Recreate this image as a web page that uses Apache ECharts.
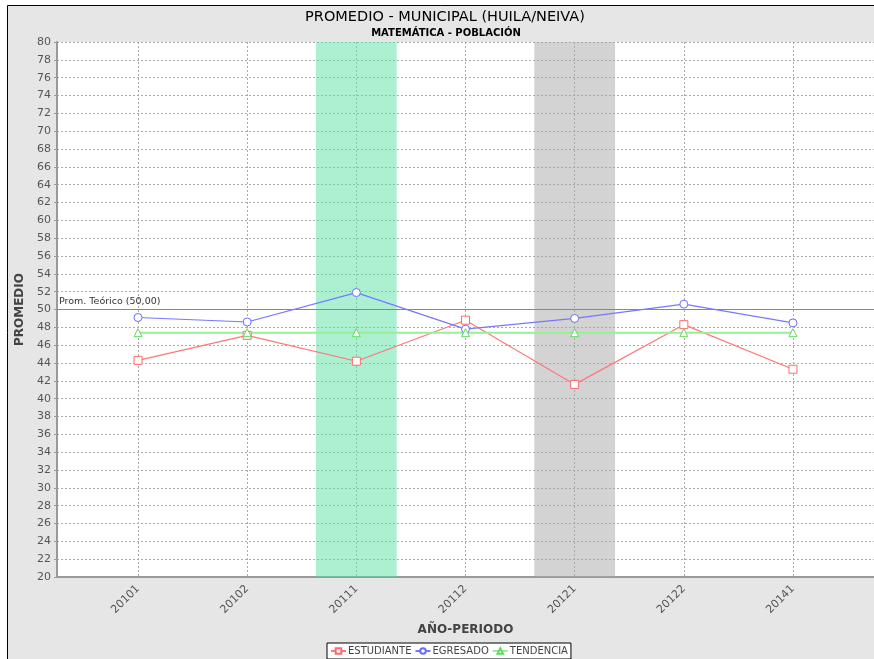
<!DOCTYPE html>
<html>
<head>
<meta charset="utf-8">
<script src="https://cdn.jsdelivr.net/npm/echarts@6/dist/echarts.min.js"></script>
<style>
html,body{margin:0;padding:0;background:#fff;}
#chart{width:874px;height:659px;}
</style>
</head>
<body>
<div id="chart"></div>
<script>
var categories = ['20101','20102','20111','20112','20121','20122','20141'];
var estudiante = [44.3, 47.1, 44.2, 48.8, 41.6, 48.3, 43.3];
var egresado   = [49.1, 48.6, 51.9, 47.8, 49.0, 50.6, 48.5];
var tendencia  = [47.4, 47.4, 47.4, 47.4, 47.4, 47.4, 47.4];
var promTeorico = 50;
var greenBandCat = '20111';
var grayBandCat = '20121';

var chart = echarts.init(document.getElementById('chart'), null, {renderer:'canvas'});
function pairs(arr){ return arr.map(function(v,i){ return [i, v]; }); }
var half = 0.37;
var gi = categories.indexOf(greenBandCat), ri = categories.indexOf(grayBandCat);
var FONT = 'DejaVu Sans';

var option = {
  backgroundColor: '#ffffff',
  animation: false,
  textStyle: {fontFamily: FONT},
  graphic: [{
    type: 'rect', z: -10, silent: true,
    shape: {x: 7.5, y: 5.5, width: 900, height: 700},
    style: {fill: '#e6e6e6', stroke: '#000', lineWidth: 1}
  }],
  title: [{
    text: 'PROMEDIO - MUNICIPAL (HUILA/NEIVA)',
    left: 440, top: 5, textAlign: 'center',
    textStyle: {fontFamily: FONT, fontSize: 14.5, fontWeight: 'normal', color: '#000'}
  },{
    text: 'MATEMÁTICA - POBLACIÓN',
    left: 441, top: 23, textAlign: 'center',
    textStyle: {fontFamily: FONT, fontSize: 10, fontWeight: 'bold', color: '#000'}
  }],
  legend: {
    left: 327, top: 643,
    backgroundColor: '#fff', borderColor: '#000', borderWidth: 1,
    padding: [3, 3], itemGap: 3, itemWidth: 15, itemHeight: 7,
    textStyle: {fontFamily: FONT, fontSize: 10, color: '#444', padding: [0,0,0,-3]},
    data: ['ESTUDIANTE', 'EGRESADO', 'TENDENCIA']
  },
  grid: {left: 57, right: 0, top: 42, bottom: 82, show: true, backgroundColor: '#fff', borderWidth: 0},
  xAxis: {
    type: 'value', min: -0.742, max: 6.742,
    name: 'AÑO-PERIODO', nameLocation: 'middle', nameGap: 47,
    nameTextStyle: {fontFamily: FONT, fontSize: 12, fontWeight: 'bold', color: '#444'},
    axisLine: {show: true, onZero: false, lineStyle: {color: '#999', width: 2}},
    axisTick: {show: false, customValues: categories.map(function(c,i){return i;})},
    axisLabel: {
      customValues: categories.map(function(c,i){return i;}),
      rotate: 45, margin: 10, fontFamily: FONT, fontSize: 11, color: '#555',
      formatter: function(v){ return categories[Math.round(v)] || ''; }
    },
    splitLine: {show: true, lineStyle: {color: '#aaa', type: [2,2], width: 1}}
  },
  yAxis: {
    type: 'value', min: 20, max: 80, interval: 2,
    name: 'PROMEDIO', nameLocation: 'middle', nameGap: 24, nameRotate: 90,
    nameTextStyle: {fontFamily: FONT, fontSize: 12, fontWeight: 'bold', color: '#444'},
    axisLine: {show: true, onZero: false, lineStyle: {color: '#999', width: 2}},
    axisTick: {show: true, length: 3, lineStyle: {color: '#999'}},
    axisLabel: {fontFamily: FONT, fontSize: 11, color: '#555', margin: 6},
    splitLine: {show: true, lineStyle: {color: '#aaa', type: [2,2], width: 1}}
  },
  series: [{
    name: 'bands', type: 'line', data: [], z: 1, silent: true,
    markArea: {
      silent: true,
      data: [
        [{xAxis: gi - half, itemStyle: {color: 'rgba(85,225,163,0.5)'}}, {xAxis: gi + half}],
        [{xAxis: ri - half, itemStyle: {color: 'rgba(167,167,167,0.5)'}}, {xAxis: ri + half}]
      ]
    },
    markLine: {
      silent: true, symbol: 'none',
      lineStyle: {color: '#888', type: 'solid', width: 1},
      label: {position: 'insideStartTop', formatter: 'Prom. Teórico (50,00)', fontFamily: FONT, fontSize: 9.5, color: '#333', distance: [2, 3]},
      data: [{yAxis: promTeorico}]
    }
  },{
    name: 'ESTUDIANTE', type: 'line', z: 3, data: pairs(estudiante),
    symbol: 'rect', symbolSize: 8, showSymbol: true,
    itemStyle: {color: '#fff', borderColor: '#ff6a6a', borderWidth: 1},
    lineStyle: {color: '#ff7777', width: 1.2}
  },{
    name: 'EGRESADO', type: 'line', z: 3, data: pairs(egresado),
    symbol: 'circle', symbolSize: 8,
    itemStyle: {color: '#fff', borderColor: '#6b6bff', borderWidth: 1},
    lineStyle: {color: '#7777ff', width: 1.2}
  },{
    name: 'TENDENCIA', type: 'line', z: 3, data: pairs(tendencia),
    symbol: 'triangle', symbolSize: 8,
    itemStyle: {color: '#fff', borderColor: '#5fdc5f', borderWidth: 1},
    lineStyle: {color: '#99ee99', width: 2}
  }]
};
chart.setOption(option);
</script>
</body>
</html>
